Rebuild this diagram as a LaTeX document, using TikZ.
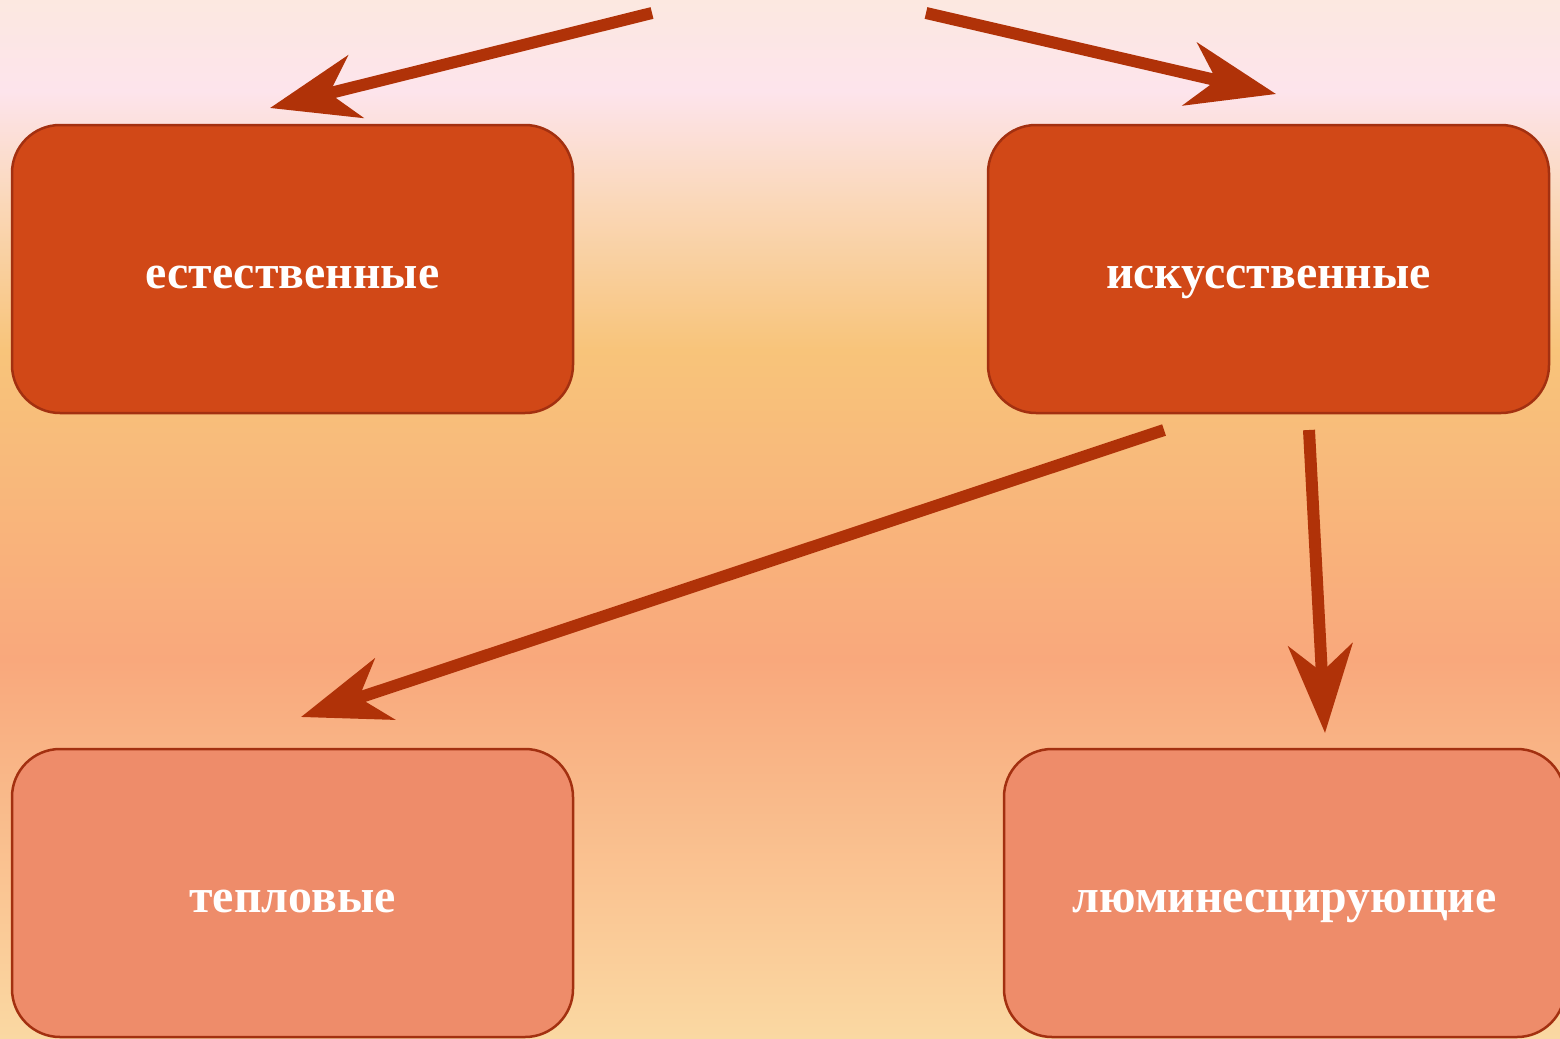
\documentclass[tikz,border=0pt]{standalone}
\usepackage{fontspec}
\setmainfont{Liberation Serif}
\usetikzlibrary{arrows.meta, positioning}

\definecolor{bgA}{HTML}{FCE8E0}
\definecolor{bgB}{HTML}{FDE4EC}
\definecolor{bgC}{HTML}{FAD8BA}
\definecolor{bgD}{HTML}{F8C47A}
\definecolor{bgE}{HTML}{F9A87C}
\definecolor{bgF}{HTML}{FAD8A2}
\definecolor{darkbox}{HTML}{D14817}
\definecolor{lightbox}{HTML}{EE8C6A}
\definecolor{edge}{HTML}{A33010}
\definecolor{arrowred}{HTML}{B03208}

\begin{document}
\begin{tikzpicture}[
    x=0.1mm, y=-0.1mm,
    kind/.style={rectangle, draw=edge, line width=0.25mm, rounded corners=4.8mm,
        minimum width=56.1mm, minimum height=28.8mm, text=white,
        text height=3.8mm, text depth=0pt,
        font=\fontsize{13.6pt}{16pt}\selectfont\bfseries},
    main/.style={kind, fill=darkbox},
    sub/.style={kind, fill=lightbox},
    arrow/.style={draw=arrowred, line width=1.2mm,
        -{Stealth[length=8.8mm, width=6.4mm, inset=2.7mm]}}
]

% Background gradient
\useasboundingbox (0,0) rectangle (1560,1038);
\shade[top color=bgA, bottom color=bgB] (0,0) rectangle (1560,92);
\shade[top color=bgB, bottom color=bgC] (0,91) rectangle (1560,200);
\shade[top color=bgC, bottom color=bgD] (0,199) rectangle (1560,350);
\shade[top color=bgD, bottom color=bgE] (0,349) rectangle (1560,660);
\shade[top color=bgE, bottom color=bgF] (0,659) rectangle (1560,1038);

% Boxes
\node[main] (natural) at (292.5,269) {естественные};
\node[main] (artificial) at (1268.5,269) {искусственные};
\node[sub] (thermal) at (292.5,893) {тепловые};
\node[sub] (lumin) at (1284.5,893) {люминесцирующие};

% Free arrow ends
\coordinate (rootL) at (652,13);
\coordinate (rootR) at (926,13);
\coordinate (tipL) at (270,108);
\coordinate (tipR) at (1276,94);
\coordinate (fromA) at (1164,430);
\coordinate (fromB) at (1309,430);
\coordinate (tipT) at (301,717);
\coordinate (tipB) at (1325,733);

% Arrows
\draw[arrow] (rootL) -- (tipL);
\draw[arrow] (rootR) -- (tipR);
\draw[arrow] (fromA) -- (tipT);
\draw[arrow] (fromB) -- (tipB);

\end{tikzpicture}
\end{document}
